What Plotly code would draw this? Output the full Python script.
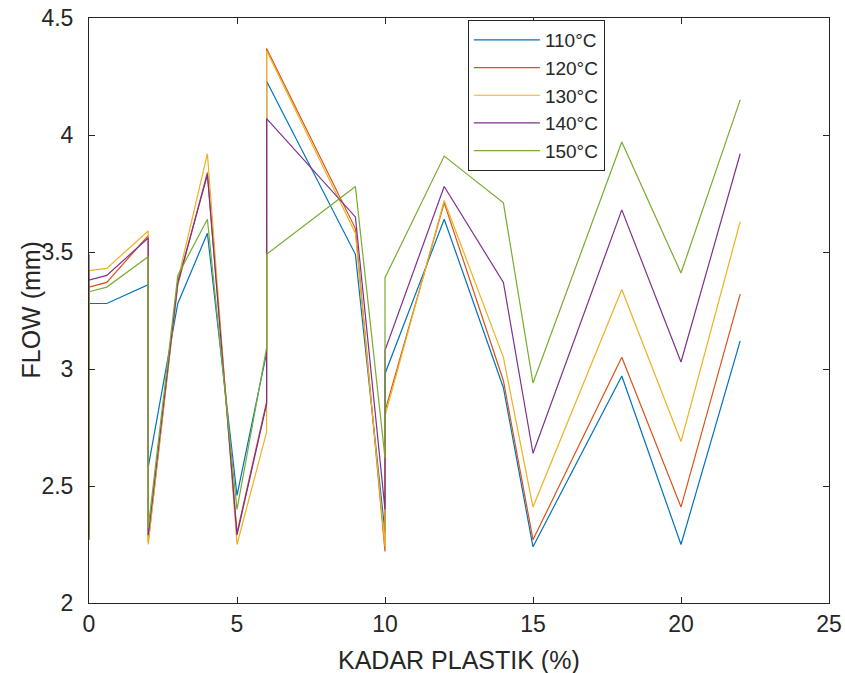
import plotly.graph_objects as go

# shared x positions (KADAR PLASTIK %)
kadar = [0, 0, 0, 0.6, 2, 2, 3, 4, 5, 6, 6, 9, 10, 10, 12, 14, 15, 18, 20, 22]

flow_110 = [2.27, 3.28, 3.28, 3.28, 3.36, 2.58, 3.28, 3.58, 2.46, 3.07, 4.23, 3.49, 2.30, 2.98, 3.64, 2.92, 2.24, 2.97, 2.25, 3.12]
flow_120 = [2.27, 3.35, 3.35, 3.37, 3.57, 2.26, 3.36, 3.84, 2.30, 2.86, 4.37, 3.60, 2.22, 2.82, 3.71, 2.95, 2.27, 3.05, 2.41, 3.32]
flow_130 = [2.27, 3.42, 3.42, 3.43, 3.59, 2.25, 3.38, 3.92, 2.25, 2.73, 4.36, 3.58, 2.24, 2.80, 3.72, 3.05, 2.41, 3.34, 2.69, 3.63]
flow_140 = [2.28, 3.49, 3.38, 3.40, 3.56, 2.29, 3.37, 3.83, 2.29, 2.85, 4.07, 3.65, 2.40, 3.08, 3.78, 3.37, 2.64, 3.68, 3.03, 3.92]
flow_150 = [2.27, 3.33, 3.33, 3.35, 3.48, 2.32, 3.40, 3.64, 2.40, 3.09, 3.49, 3.78, 2.62, 3.39, 3.91, 3.71, 2.94, 3.97, 3.41, 4.15]

labels = ["110°C", "120°C", "130°C", "140°C", "150°C"]
series = [flow_110, flow_120, flow_130, flow_140, flow_150]
colors = ["#0072BD", "#D95319", "#EDB120", "#7E2F8E", "#77AC30"]

x_ticks = [0, 5, 10, 15, 20, 25]
y_ticks = [2, 2.5, 3, 3.5, 4, 4.5]

FONT = "Liberation Sans, Arial, sans-serif"

fig = go.Figure()
for name, vals, col in zip(labels, series, colors):
    fig.add_trace(go.Scatter(x=kadar, y=vals, mode="lines", name=name,
                             legendgroup=name,
                             line=dict(color=col, width=1.2)))

axis_font = dict(family=FONT, size=23, color="#262626")
fig.update_layout(
    width=845, height=673,
    margin=dict(l=89, r=16, t=18, b=70, autoexpand=False),
    paper_bgcolor="white", plot_bgcolor="white",
    showlegend=True,
    legend=dict(x=0.512, y=0.9966, xanchor="left", yanchor="top",
                bgcolor="white", bordercolor="#262626", borderwidth=1,
                font=dict(family=FONT, size=19, color="#262626"),
                itemwidth=66,
                traceorder="grouped", tracegroupgap=0),
    xaxis=dict(range=[0, 25], tickvals=x_ticks, ticktext=[str(v) for v in x_ticks],
               showgrid=False, zeroline=False, showline=True, linecolor="#262626",
               linewidth=1, mirror="ticks", ticks="inside", ticklen=6,
               tickcolor="#262626", tickfont=axis_font, automargin=False,
               ticklabeloverflow="allow"),
    yaxis=dict(range=[2, 4.5], tickvals=y_ticks, ticktext=["2", "2.5", "3", "3.5", "4", "4.5"],
               showgrid=False, zeroline=False, showline=True, linecolor="#262626",
               linewidth=1, mirror="ticks", ticks="inside", ticklen=6,
               tickcolor="#262626", tickfont=axis_font, automargin=False,
               ticklabelstandoff=10, ticklabeloverflow="allow"),
    annotations=[
        dict(text="KADAR PLASTIK (%)", xref="paper", yref="paper", x=0.5, y=-0.0974,
             xanchor="center", yanchor="middle", showarrow=False,
             font=dict(family=FONT, size=25, color="#262626")),
        dict(text="FLOW (mm)", xref="paper", yref="paper", x=-0.0797, y=0.5,
             xanchor="center", yanchor="middle", showarrow=False, textangle=-90,
             font=dict(family=FONT, size=25, color="#262626")),
    ],
)

fig.write_html("out.html", config={"displayModeBar": False},
               post_script="document.body.style.margin='0';")
